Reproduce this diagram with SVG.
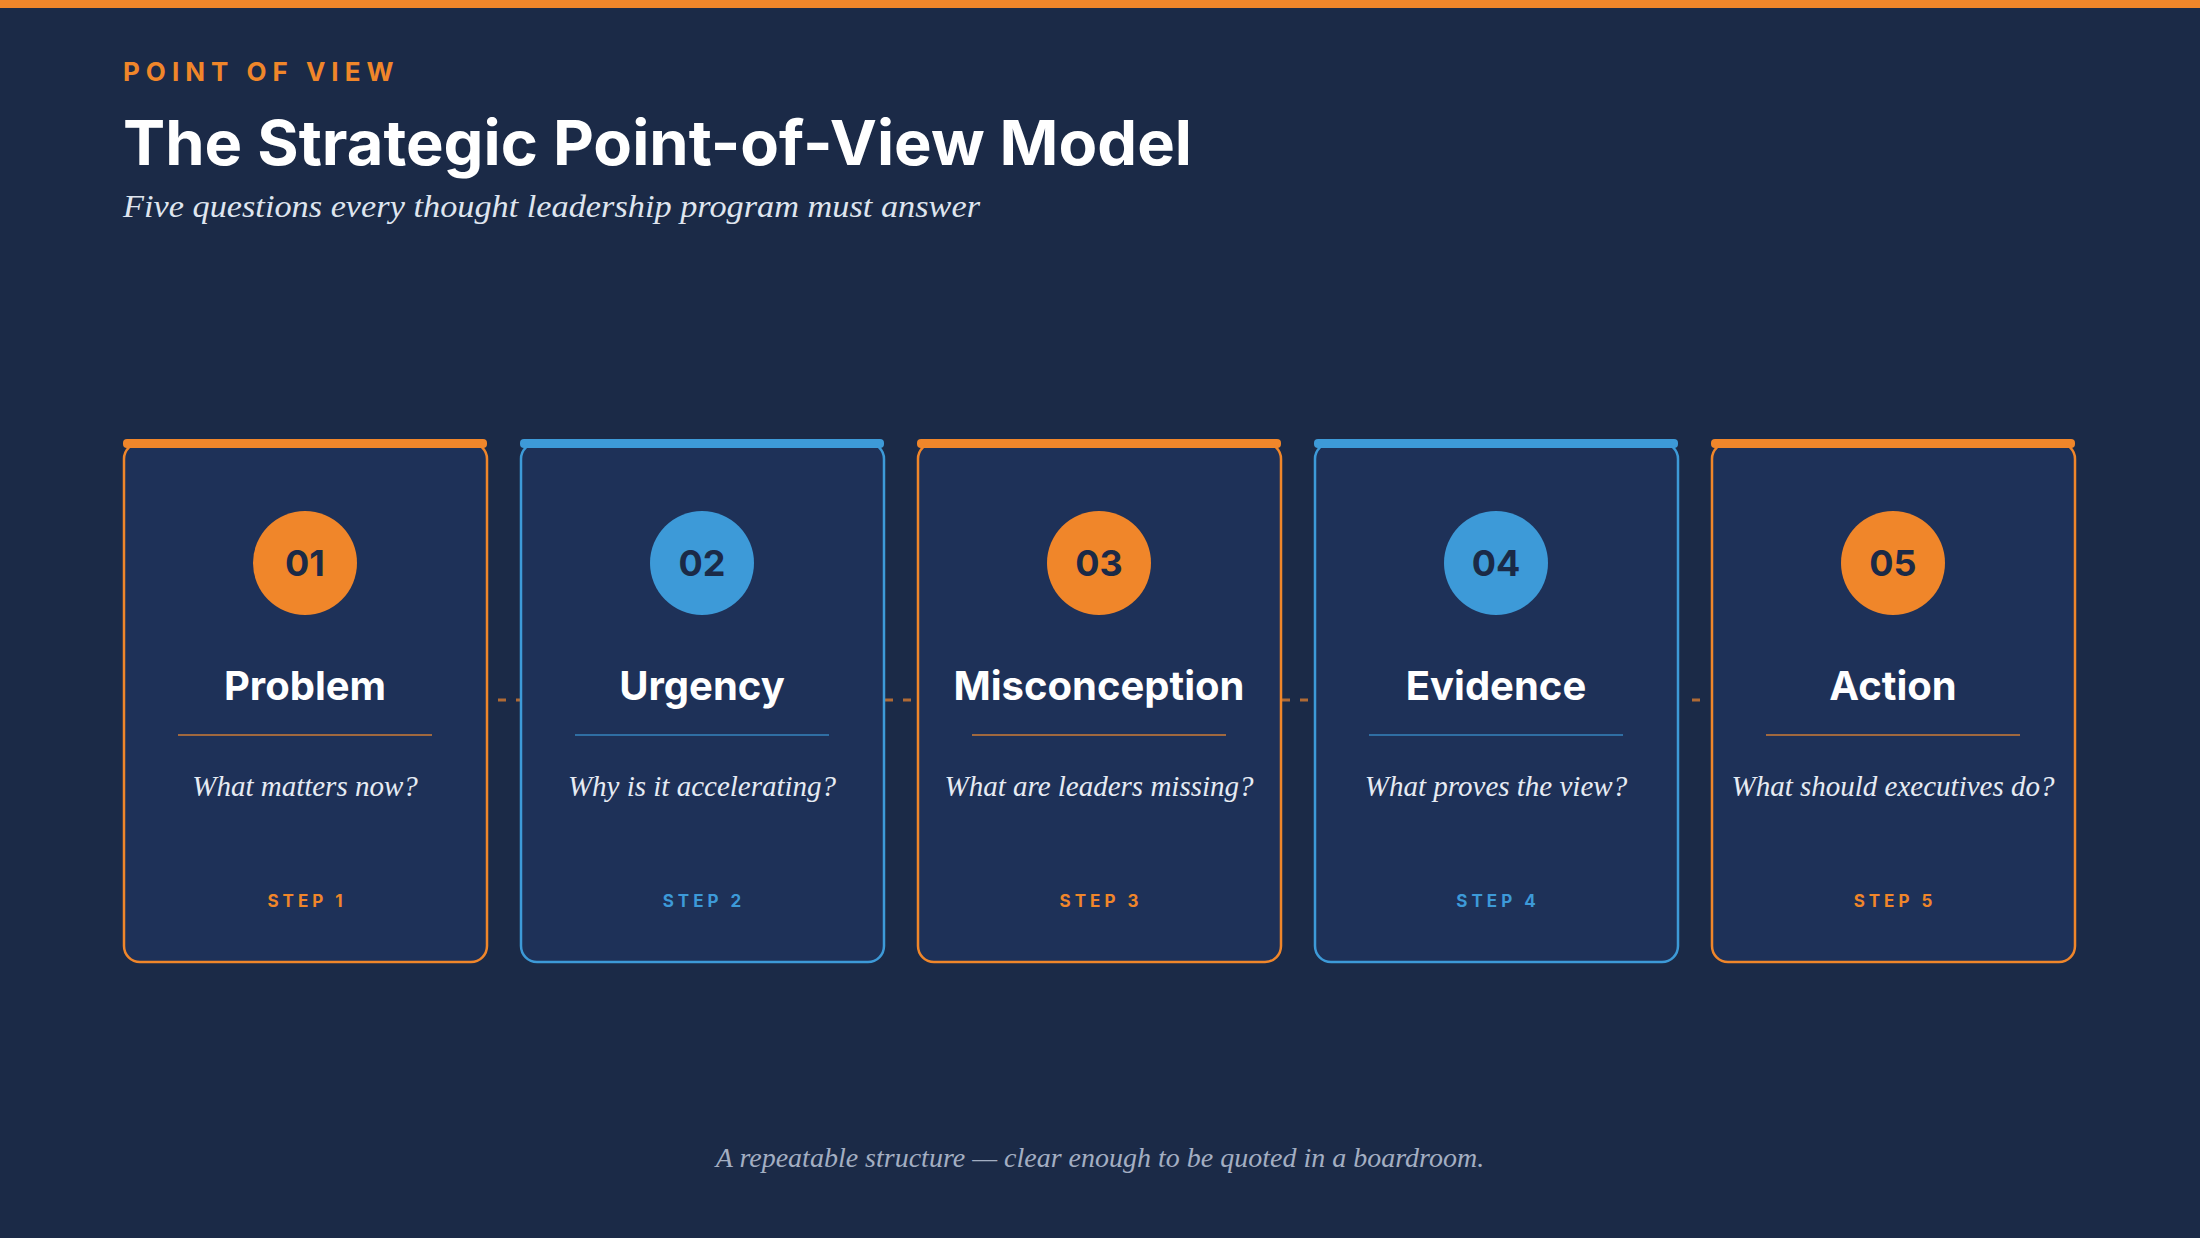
<svg xmlns="http://www.w3.org/2000/svg" width="2200" height="1238" viewBox="0 0 2200 1238">
<style>
.sans{font-family:Inter,"Noto Sans",sans-serif;font-weight:700}
.serif{font-family:"Liberation Serif","DejaVu Serif",serif;font-style:italic}
.card{fill:#1e3158;stroke-width:2.5}
.o{stroke:#f0862a}.b{stroke:#3d9ad8}
.num{font-size:36px;fill:#1b2a47;text-anchor:middle}
.ttl{font-size:40px;fill:#fff;text-anchor:middle}
.q{font-size:29px;fill:#e6ebf3;text-anchor:middle}
.step{font-size:17px;letter-spacing:4px;text-anchor:middle}
</style>
<rect width="2200" height="1238" fill="#1b2a47"/>
<rect width="2200" height="8" fill="#f0862a"/>
<text x="123" y="81" class="sans" font-size="26" letter-spacing="6" fill="#f0862a">POINT OF VIEW</text>
<text x="123" y="165" class="sans" font-size="62" fill="#fff" textLength="1069" lengthAdjust="spacingAndGlyphs">The Strategic Point-of-View Model</text>
<text x="123" y="217" class="serif" font-size="32" fill="#dfe5ef" textLength="857" lengthAdjust="spacingAndGlyphs">Five questions every thought leadership program must answer</text>
<g id="connectors" stroke="#b06a35" stroke-width="3" stroke-dasharray="8 10">
<line x1="498" y1="700" x2="520" y2="700"/>
<line x1="885" y1="700" x2="917" y2="700"/>
<line x1="1282" y1="700" x2="1314" y2="700"/>
<line x1="1692" y1="700" x2="1702" y2="700"/>
</g>
<g id="n1"><rect class="card o" x="124" y="443" width="363" height="519" rx="16"/><rect x="123" y="439" width="364" height="9" rx="4" fill="#f0862a"/>
<circle cx="305" cy="563" r="52" fill="#f0862a"/><text x="305" y="576" class="sans num">01</text>
<text x="305" y="700" class="sans ttl">Problem</text><line x1="178" y1="735" x2="432" y2="735" stroke="#a0683e" stroke-width="2"/>
<text x="305" y="796" class="serif q">What matters now?</text><text x="307" y="907" class="sans step" fill="#f0862a">STEP 1</text></g>
<g id="n2"><rect class="card b" x="521" y="443" width="363" height="519" rx="16"/><rect x="520" y="439" width="364" height="9" rx="4" fill="#3d9ad8"/>
<circle cx="702" cy="563" r="52" fill="#3d9ad8"/><text x="702" y="576" class="sans num">02</text>
<text x="702" y="700" class="sans ttl">Urgency</text><line x1="575" y1="735" x2="829" y2="735" stroke="#2f6ea3" stroke-width="2"/>
<text x="702" y="796" class="serif q">Why is it accelerating?</text><text x="704" y="907" class="sans step" fill="#3d9ad8">STEP 2</text></g>
<g id="n3"><rect class="card o" x="918" y="443" width="363" height="519" rx="16"/><rect x="917" y="439" width="364" height="9" rx="4" fill="#f0862a"/>
<circle cx="1099" cy="563" r="52" fill="#f0862a"/><text x="1099" y="576" class="sans num">03</text>
<text x="1099" y="700" class="sans ttl">Misconception</text><line x1="972" y1="735" x2="1226" y2="735" stroke="#a0683e" stroke-width="2"/>
<text x="1099" y="796" class="serif q">What are leaders missing?</text><text x="1101" y="907" class="sans step" fill="#f0862a">STEP 3</text></g>
<g id="n4"><rect class="card b" x="1315" y="443" width="363" height="519" rx="16"/><rect x="1314" y="439" width="364" height="9" rx="4" fill="#3d9ad8"/>
<circle cx="1496" cy="563" r="52" fill="#3d9ad8"/><text x="1496" y="576" class="sans num">04</text>
<text x="1496" y="700" class="sans ttl">Evidence</text><line x1="1369" y1="735" x2="1623" y2="735" stroke="#2f6ea3" stroke-width="2"/>
<text x="1496" y="796" class="serif q">What proves the view?</text><text x="1498" y="907" class="sans step" fill="#3d9ad8">STEP 4</text></g>
<g id="n5"><rect class="card o" x="1712" y="443" width="363" height="519" rx="16"/><rect x="1711" y="439" width="364" height="9" rx="4" fill="#f0862a"/>
<circle cx="1893" cy="563" r="52" fill="#f0862a"/><text x="1893" y="576" class="sans num">05</text>
<text x="1893" y="700" class="sans ttl">Action</text><line x1="1766" y1="735" x2="2020" y2="735" stroke="#a0683e" stroke-width="2"/>
<text x="1893" y="796" class="serif q">What should executives do?</text><text x="1895" y="907" class="sans step" fill="#f0862a">STEP 5</text></g>
<text x="1100" y="1167" class="serif" font-size="28" fill="#a3aec2" text-anchor="middle">A repeatable structure — clear enough to be quoted in a boardroom.</text>
</svg>
